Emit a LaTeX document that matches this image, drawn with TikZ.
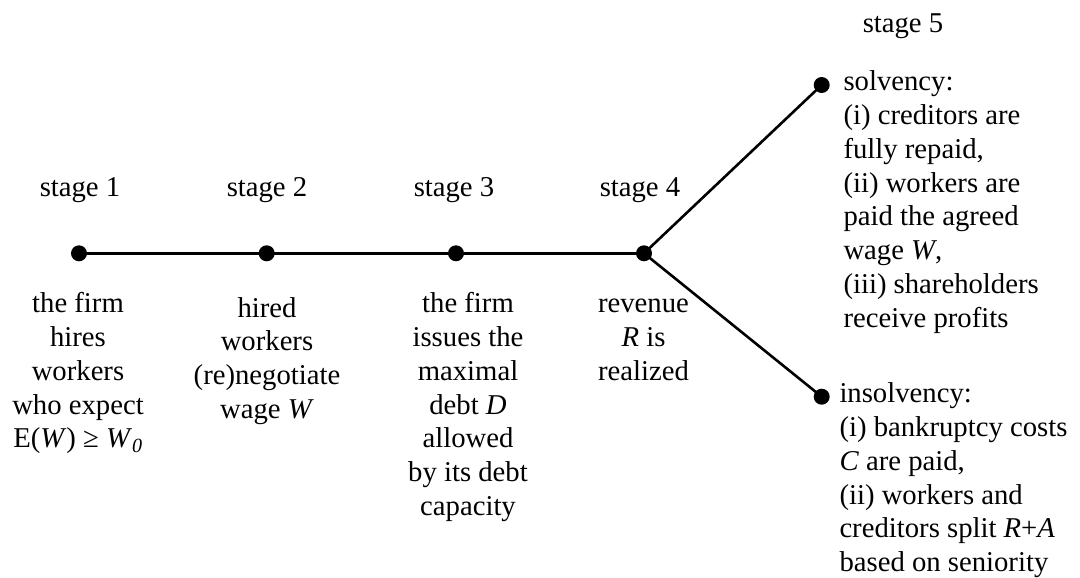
\documentclass[tikz,border=0pt]{standalone}
\usepackage{fontspec}
\setmainfont{Liberation Serif}
\begin{document}
\begin{tikzpicture}[x=1pt,y=-1pt,
  txt/.style={inner sep=0pt,font=\fontsize{28.7}{33.8}\selectfont},
  dotn/.style={circle,fill=black,inner sep=0pt,minimum size=16pt},
  conn/.style={line width=2.6pt}]
\useasboundingbox (0,0) rectangle (1080,578);
% dots
\node[dotn] (d1) at (79,253.3) {};
\node[dotn] (d2) at (266.7,253.3) {};
\node[dotn] (d3) at (456,253.3) {};
\node[dotn] (d4) at (644,253.3) {};
\node[dotn] (du) at (821.7,85) {};
\node[dotn] (dl) at (821.7,396.7) {};
% connectors
\draw[conn] (d1.center) -- (d2.center) -- (d3.center) -- (d4.center);
\draw[conn] (d4.center) -- (du.center);
\draw[conn] (d4.center) -- (dl.center);
% stage labels
\node[txt,anchor=base] (s1) at (80,196) {stage 1};
\node[txt,anchor=base] (s2) at (267,196) {stage 2};
\node[txt,anchor=base] (s3) at (454,196) {stage 3};
\node[txt,anchor=base] (s4) at (640,196) {stage 4};
\node[txt,anchor=base] (s5) at (903,32.7) {stage 5};
% descriptions
\node[txt,anchor=base] (t1) at (78,312.7) {\begin{tabular}[t]{@{}c@{}}the firm\\ hires\\ workers\\ who expect\\ E(\textit{W}) ≥ \textit{W}\textsubscript{\textit{0}}\end{tabular}};
\node[txt,anchor=base] (t2) at (267,317) {\begin{tabular}[t]{@{}c@{}}hired\\ workers\\ (re)negotiate\\ wage \textit{W}\end{tabular}};
\node[txt,anchor=base] (t3) at (468,312.7) {\begin{tabular}[t]{@{}c@{}}the firm\\ issues the\\ maximal\\ debt \textit{D}\\ allowed\\ by its debt\\ capacity\end{tabular}};
\node[txt,anchor=base] (t4) at (643.5,312.7) {\begin{tabular}[t]{@{}c@{}}revenue\\ \textit{R} is\\ realized\end{tabular}};
\node[txt,anchor=base west] (tu) at (843.3,90.7) {\begin{tabular}[t]{@{}l@{}}solvency:\\ (i) creditors are\\ fully repaid,\\ (ii) workers are\\ paid the agreed\\ wage \textit{W},\\ (iii) shareholders\\ receive profits\end{tabular}};
\node[txt,anchor=base west] (tl) at (839.3,402.7) {\begin{tabular}[t]{@{}l@{}}insolvency:\\ (i) bankruptcy costs\\ \textit{C} are paid,\\ (ii) workers and\\ creditors split \textit{R}+\textit{A}\\ based on seniority\end{tabular}};
\end{tikzpicture}
\end{document}
